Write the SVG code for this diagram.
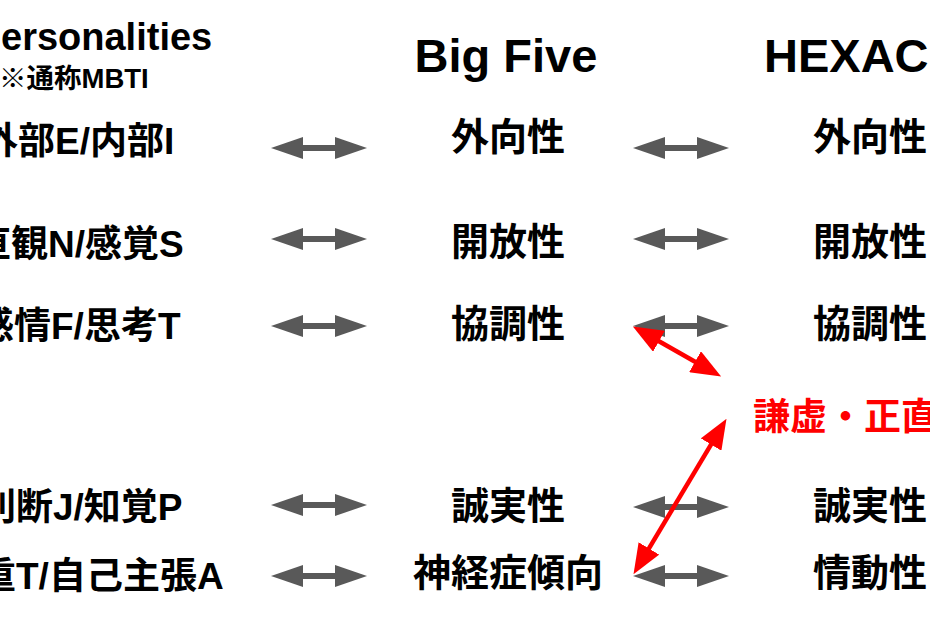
<svg xmlns="http://www.w3.org/2000/svg" width="930" height="620" viewBox="0 0 930 620">
<style>
text{font-family:"Liberation Sans","Noto Sans CJK JP",sans-serif;font-weight:bold;fill:#000}
.h{font-size:47px}
.l{font-size:37px}
.m{font-size:38px;text-anchor:middle}
.r{font-size:38px;text-anchor:middle}
.red{fill:#ff0000;font-size:37px}
.ga{stroke:#595959;stroke-width:6;fill:none}
.ra{stroke:#ff0000;stroke-width:4.5;fill:none}
</style>
<defs>
<marker id="gh" markerUnits="userSpaceOnUse" viewBox="0 0 32 22" markerWidth="32" markerHeight="22" refX="1" refY="11" orient="auto-start-reverse"><path d="M0,0 L32,11 L0,22 z" fill="#595959"/></marker>
<marker id="rh" markerUnits="userSpaceOnUse" viewBox="0 0 30 24" markerWidth="30" markerHeight="24" refX="1" refY="12" orient="auto-start-reverse"><path d="M0,0 L30,12 L0,24 z" fill="#ff0000"/></marker>
</defs>
<g id="header-16p">
<text x="1" y="50" style="font-size:38px">ersonalities</text>
<text x="-1" y="88" style="font-size:27.5px">※通称MBTI</text>
</g>
<g id="header-bigfive"><text class="h" x="506" y="72" text-anchor="middle">Big Five</text></g>
<g id="header-hexaco"><text class="h" x="764" y="72">HEXAC</text></g>
<g id="mbti-ei"><text class="l" x="-19" y="154">外部E/内部I</text></g>
<g id="mbti-ns"><text class="l" x="-26" y="257">直観N/感覚S</text></g>
<g id="mbti-ft"><text class="l" x="-23" y="339">感情F/思考T</text></g>
<g id="mbti-jp"><text class="l" x="-21" y="520">判断J/知覚P</text></g>
<g id="mbti-ta"><text class="l" x="-21" y="589">重T/自己主張A</text></g>
<g id="b5-ext"><text class="m" x="508" y="150">外向性</text></g>
<g id="b5-ope"><text class="m" x="508" y="255">開放性</text></g>
<g id="b5-agr"><text class="m" x="508" y="337">協調性</text></g>
<g id="b5-con"><text class="m" x="508" y="519">誠実性</text></g>
<g id="b5-neu"><text class="m" x="508" y="586">神経症傾向</text></g>
<g id="hx-ext"><text class="r" x="870" y="150">外向性</text></g>
<g id="hx-ope"><text class="r" x="870" y="255">開放性</text></g>
<g id="hx-agr"><text class="r" x="870" y="337">協調性</text></g>
<g id="hx-hh"><text class="red" x="753" y="430">謙虚・正直</text></g>
<g id="hx-con"><text class="r" x="870" y="519">誠実性</text></g>
<g id="hx-emo"><text class="r" x="870" y="586">情動性</text></g>
<g id="connectors">
<line class="ga" x1="302" y1="148" x2="336" y2="148" marker-start="url(#gh)" marker-end="url(#gh)"/>
<line class="ga" x1="302" y1="239" x2="336" y2="239" marker-start="url(#gh)" marker-end="url(#gh)"/>
<line class="ga" x1="302" y1="326" x2="336" y2="326" marker-start="url(#gh)" marker-end="url(#gh)"/>
<line class="ga" x1="302" y1="505" x2="336" y2="505" marker-start="url(#gh)" marker-end="url(#gh)"/>
<line class="ga" x1="302" y1="576" x2="336" y2="576" marker-start="url(#gh)" marker-end="url(#gh)"/>
<line class="ga" x1="664" y1="148" x2="698" y2="148" marker-start="url(#gh)" marker-end="url(#gh)"/>
<line class="ga" x1="664" y1="239" x2="698" y2="239" marker-start="url(#gh)" marker-end="url(#gh)"/>
<line class="ga" x1="664" y1="326" x2="698" y2="326" marker-start="url(#gh)" marker-end="url(#gh)"/>
<line class="ga" x1="664" y1="507" x2="698" y2="507" marker-start="url(#gh)" marker-end="url(#gh)"/>
<line class="ga" x1="664" y1="576" x2="698" y2="576" marker-start="url(#gh)" marker-end="url(#gh)"/>
<line class="ra" x1="658.1" y1="340.8" x2="695.9" y2="362.2" marker-start="url(#rh)" marker-end="url(#rh)"/>
<line class="ra" x1="711.6" y1="443.7" x2="648.4" y2="549.3" marker-start="url(#rh)" marker-end="url(#rh)"/>
</g>
</svg>
